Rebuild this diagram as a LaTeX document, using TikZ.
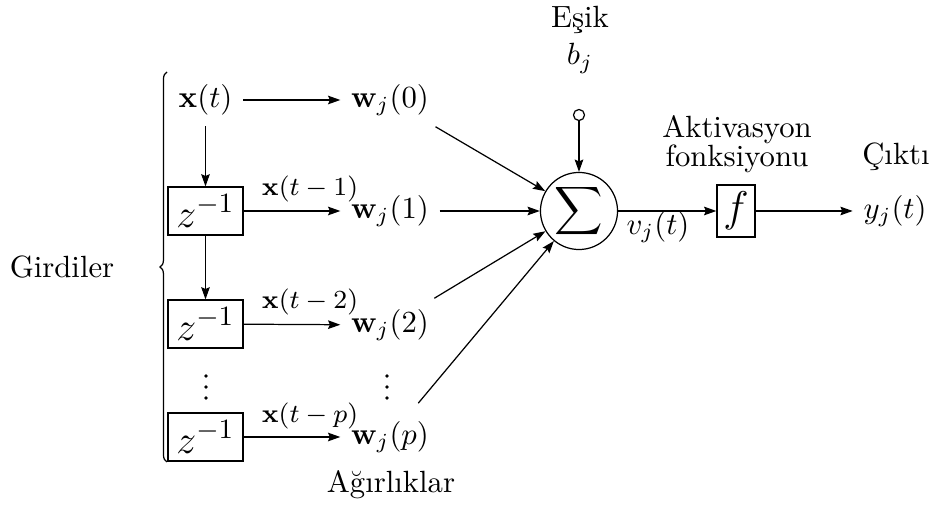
\RequirePackage{fix-cm}
\documentclass[tikz,border=0pt]{standalone}
\usepackage{amsmath}
\usetikzlibrary{arrows.meta,decorations.pathreplacing}
\begin{document}
\begin{tikzpicture}[x=0.3257pt,y=-0.3257pt,
  >={Stealth[length=4pt,width=2.8pt,inset=0.6pt]},
  conn/.style={->,line width=0.4pt},
  lbl/.style={inner sep=0pt,anchor=base},
  mathnode/.style={inner sep=3.33pt},
  delaybox/.style={draw,inner sep=0pt,minimum width=24.4pt,minimum height=15.6pt,font=\fontsize{13}{15}\selectfont},
  small lbl/.style={inner sep=0pt,font=\fontsize{8.5}{10}\selectfont},
  vdot/.style={circle,fill,inner sep=0pt,minimum size=1.2pt},
]
\useasboundingbox (0,0) rectangle (936,507);

% inputs column
\node[mathnode] (xt) at (205.5,100) {$\mathbf{x}(t)$};
\node[delaybox] (z1) at (205.5,211) {$z^{-1}$};
\node[delaybox] (z2) at (205.5,324) {$z^{-1}$};
\node[delaybox] (z3) at (205.5,437) {$z^{-1}$};
\foreach \i/\yy in {1/376,2/387,3/398} {
  \node[vdot] (dl\i) at (206,\yy) {};
  \node[vdot] (dr\i) at (387,\yy) {};
}

% weights column
\node[mathnode] (w0) at (390,100) {$\mathbf{w}_j(0)$};
\node[mathnode] (w1) at (390,211) {$\mathbf{w}_j(1)$};
\node[mathnode] (w2) at (390,325) {$\mathbf{w}_j(2)$};
\node[mathnode] (wp) at (390,437) {$\mathbf{w}_j(p)$};

% delayed signal labels
\node[small lbl] (l1) at (310,189) {$\mathbf{x}(t-1)$};
\node[small lbl] (l2) at (310,302) {$\mathbf{x}(t-2)$};
\node[small lbl] (l3) at (310,416) {$\mathbf{x}(t-p)$};

% summing junction and bias
\node[draw,circle,inner sep=0pt,minimum size=25.1pt,font=\fontsize{11}{13}\selectfont] (sum) at (579,211) {$\displaystyle\sum$};
\node[draw,circle,inner sep=0pt,minimum size=3.6pt] (bias) at (579,115) {};
\node[lbl] (esik) at (580,28) {Eşik};
\node[lbl] (bj) at (580,65) {$b_j$};

% activation
\node[draw,inner sep=0pt,minimum width=12.4pt,minimum height=16.9pt,font=\fontsize{14}{16}\selectfont] (f) at (736,211) {$f$};
\node[lbl] (akt1) at (737,138) {Aktivasyon};
\node[lbl] (akt2) at (737,167) {fonksiyonu};
\node[mathnode] (vj) at (658,227) {$v_j(t)$};

% output
\node[mathnode] (yj) at (895,211) {$y_j(t)$};
\node[lbl] (cikti) at (896,165) {Çıktı};

% side labels
\node[lbl] (girdiler) at (62,278) {Girdiler};
\node[lbl] (agirlik) at (391,493) {Ağırlıklar};

% brace
\coordinate (bb) at (167,462);
\coordinate (bt) at (167,72);
\draw[decorate,decoration={brace,amplitude=2.3pt}] (bb) -- (bt);

% connectors
\draw[conn] (xt) -- (w0);
\draw[conn] (xt) -- (z1);
\draw[conn] (z1) -- (z2);
\draw[conn] (z1) -- (w1);
\draw[conn] (z2) -- (w2);
\draw[conn] (z3) -- (wp);
\draw[conn] (w0) -- (sum);
\draw[conn] (w1) -- (sum);
\draw[conn] (w2) -- (sum);
\draw[conn,shorten <=3pt] (wp) -- (sum);
\draw[conn] (bias) -- (sum);
\draw[conn] (sum) -- (f);
\draw[conn] (f) -- (yj);
\end{tikzpicture}
\end{document}
